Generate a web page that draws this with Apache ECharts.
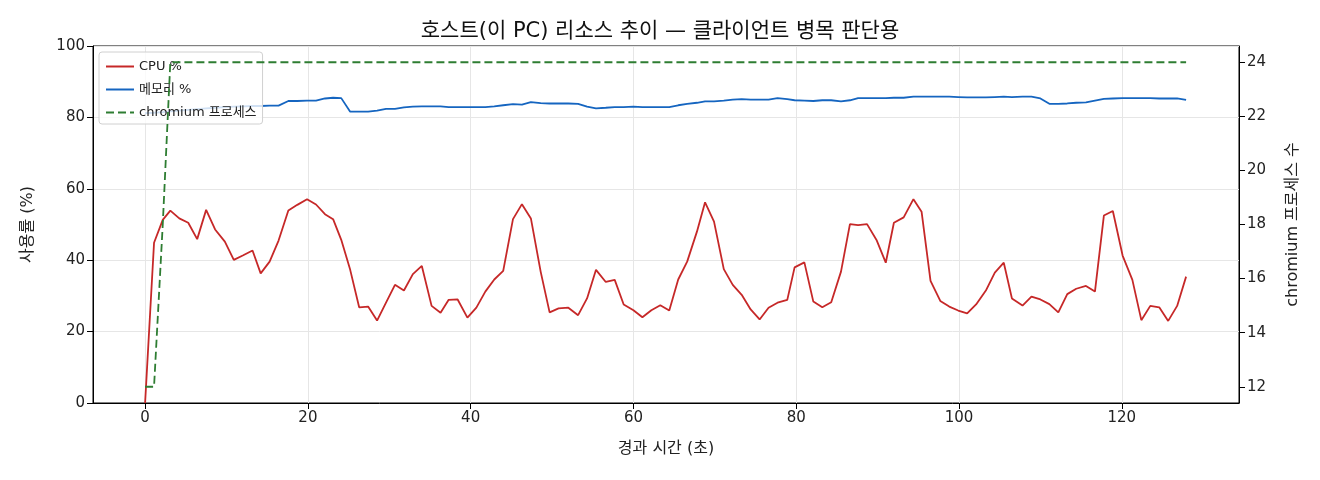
<!DOCTYPE html>
<html>
<head>
<meta charset="utf-8">
<script src="https://cdn.jsdelivr.net/npm/echarts@6/dist/echarts.min.js"></script>
<style>
html,body{margin:0;padding:0;background:#fff;}
#c{width:1320px;height:480px;}
</style>
</head>
<body>
<div id="c"></div>
<script>
const times = [0,1.1,2.17,3.1,4.2,5.3,6.4,7.5,8.6,9.8,10.9,12.0,13.2,14.2,15.3,16.4,17.6,18.7,19.9,21.0,
22.1,23.1,24.1,25.2,26.3,27.4,28.5,29.6,30.7,31.8,32.9,34.0,35.2,36.3,37.3,38.4,39.6,40.7,41.8,42.9,
44.0,45.2,46.3,47.4,48.6,49.7,50.8,52.0,53.2,54.3,55.4,56.6,57.7,58.8,60.0,61.1,62.2,63.3,64.4,65.5,
66.6,67.8,68.8,69.9,71.1,72.2,73.3,74.4,75.5,76.6,77.7,78.9,79.8,81.0,82.1,83.2,84.3,85.5,86.6,87.6,
88.7,89.9,91.0,92.0,93.2,94.4,95.4,96.5,97.7,98.8,99.9,101.0,102.1,103.3,104.4,105.5,106.5,107.8,108.9,110.0,
111.1,112.2,113.3,114.4,115.6,116.7,117.8,118.9,120.1,121.3,122.4,123.5,124.6,125.7,126.8,127.9];

const cpuPct = [0,44.9,51.3,53.9,51.7,50.5,45.9,54.1,48.6,45.2,40.1,41.3,42.7,36.3,39.6,45.5,53.9,55.5,57.1,55.6,
52.9,51.5,45.7,37.3,26.8,27.0,23.1,28.1,33.1,31.5,36.1,38.4,27.2,25.3,28.9,29.0,23.9,26.7,31.2,34.6,
37.0,51.5,55.7,51.7,36.8,25.4,26.5,26.7,24.6,29.3,37.3,33.9,34.5,27.6,26.0,24.0,26.0,27.4,25.9,34.6,
39.6,48.0,56.2,50.8,37.5,33.1,30.3,26.2,23.4,26.7,28.1,28.9,38.0,39.4,28.4,26.8,28.2,36.8,50.1,49.8,
50.1,45.5,39.3,50.5,52.0,57.1,53.6,34.2,28.6,27.0,25.9,25.1,27.6,31.5,36.5,39.3,29.3,27.3,29.8,29.0,
27.7,25.4,30.5,32.0,32.8,31.2,52.5,53.8,41.3,34.5,23.2,27.2,26.8,23.0,27.2,35.4];

const memPct = [81.2,81.3,81.5,81.7,81.9,82.1,82.3,82.5,82.7,82.9,83.0,83.1,83.2,83.2,83.3,83.3,84.6,84.6,84.7,84.7,
85.3,85.5,85.4,81.6,81.6,81.6,81.9,82.4,82.4,82.8,83.0,83.1,83.1,83.1,82.9,82.9,82.9,82.9,82.9,83.1,
83.4,83.7,83.6,84.3,84.0,83.9,83.9,83.9,83.8,83.0,82.5,82.7,82.9,82.9,83.0,82.9,82.9,82.9,82.9,83.4,
83.8,84.1,84.5,84.5,84.7,85.0,85.1,85.0,85.0,85.0,85.4,85.1,84.8,84.7,84.6,84.8,84.8,84.5,84.8,85.4,
85.4,85.4,85.4,85.5,85.5,85.8,85.8,85.8,85.8,85.8,85.7,85.6,85.6,85.6,85.7,85.8,85.7,85.8,85.8,85.3,
83.8,83.8,83.9,84.1,84.2,84.7,85.2,85.3,85.4,85.4,85.4,85.4,85.3,85.3,85.3,84.9];

const chromiumCount = [12,12,18].concat(new Array(times.length - 3).fill(24));

const xTicks = [0,20,40,60,80,100,120];
const yLeftTicks = [0,20,40,60,80,100];
const yRightTicks = [12,14,16,18,20,22,24];

const seriesNames = ['CPU %','메모리 %','chromium 프로세스'];
const titleText = '호스트(이 PC) 리소스 추이 — 클라이언트 병목 판단용';

const pair = (vals) => times.map((t, i) => [t, vals[i]]);
const FONT = '"DejaVu Sans", "Noto Sans CJK KR", sans-serif';
const TXT = '#222';

const chart = echarts.init(document.getElementById('c'), null, {renderer: 'canvas'});
chart.setOption({
  animation: false,
  backgroundColor: '#fff',
  textStyle: {fontFamily: FONT},
  title: {
    text: titleText, left: 'center', top: 16,
    textStyle: {fontFamily: FONT, fontSize: 21, fontWeight: 'normal', color: '#111'}
  },
  legend: {
    left: 99, top: 52, orient: 'vertical', z: 4,
    itemWidth: 28, itemHeight: 10, itemGap: 10,
    padding: [8, 6, 5, 6],
    backgroundColor: 'rgba(255,255,255,0.8)',
    borderColor: '#d0d0d0', borderWidth: 1, borderRadius: 3,
    itemStyle: {opacity: 0},
    textStyle: {fontFamily: FONT, fontSize: 13, color: TXT},
    data: seriesNames
  },
  grid: {
    left: 93, right: 81, top: 46, bottom: 77,
    show: true, borderColor: '#000', borderWidth: 1, backgroundColor: 'transparent'
  },
  xAxis: {
    type: 'value', min: -6.4, max: 134.4,
    name: '경과 시간 (초)', nameLocation: 'middle', nameGap: 38,
    nameTextStyle: {fontFamily: FONT, fontSize: 16, color: TXT},
    axisLine: {show: true, onZero: false, lineStyle: {color: '#000', width: 1}},
    axisTick: {show: true, length: 6, lineStyle: {color: '#000'}, customValues: xTicks},
    axisLabel: {fontFamily: FONT, fontSize: 15, color: TXT, margin: 8, customValues: xTicks},
    splitLine: {show: true, lineStyle: {color: '#e6e6e6', width: 1}}
  },
  yAxis: [
    {
      type: 'value', min: 0, max: 100, interval: 20, position: 'left',
      name: '사용률 (%)', nameLocation: 'middle', nameGap: 57, nameRotate: 90,
      nameTextStyle: {fontFamily: FONT, fontSize: 16, color: TXT},
      axisLine: {show: true, onZero: false, lineStyle: {color: '#000', width: 1}},
      axisTick: {show: true, length: 6, lineStyle: {color: '#000'}, customValues: yLeftTicks},
      axisLabel: {fontFamily: FONT, fontSize: 15, color: TXT, margin: 8, customValues: yLeftTicks},
      splitLine: {show: true, lineStyle: {color: '#e6e6e6', width: 1}}
    },
    {
      type: 'value', min: 11.4, max: 24.6, position: 'right',
      name: 'chromium 프로세스 수', nameLocation: 'middle', nameGap: 46, nameRotate: 90,
      nameTextStyle: {fontFamily: FONT, fontSize: 16, color: TXT},
      axisLine: {show: true, onZero: false, lineStyle: {color: '#000', width: 1}},
      axisTick: {show: true, length: 6, lineStyle: {color: '#000'}, customValues: yRightTicks},
      axisLabel: {fontFamily: FONT, fontSize: 15, color: TXT, margin: 8, customValues: yRightTicks},
      splitLine: {show: false}
    }
  ],
  series: [
    {
      name: seriesNames[0], type: 'line', yAxisIndex: 0, data: pair(cpuPct),
      symbol: 'none', showSymbol: false, z: 2,
      lineStyle: {color: '#c62828', width: 1.8}, itemStyle: {color: '#c62828'}
    },
    {
      name: seriesNames[1], type: 'line', yAxisIndex: 0, data: pair(memPct),
      symbol: 'none', showSymbol: false, z: 2,
      lineStyle: {color: '#1565c0', width: 1.8}, itemStyle: {color: '#1565c0'}
    },
    {
      name: seriesNames[2], type: 'line', yAxisIndex: 1, data: pair(chromiumCount),
      symbol: 'none', showSymbol: false, z: 6,
      lineStyle: {color: '#2e7d32', width: 1.8, type: [8, 4]}, itemStyle: {color: '#2e7d32'}
    }
  ]
});
</script>
</body>
</html>
